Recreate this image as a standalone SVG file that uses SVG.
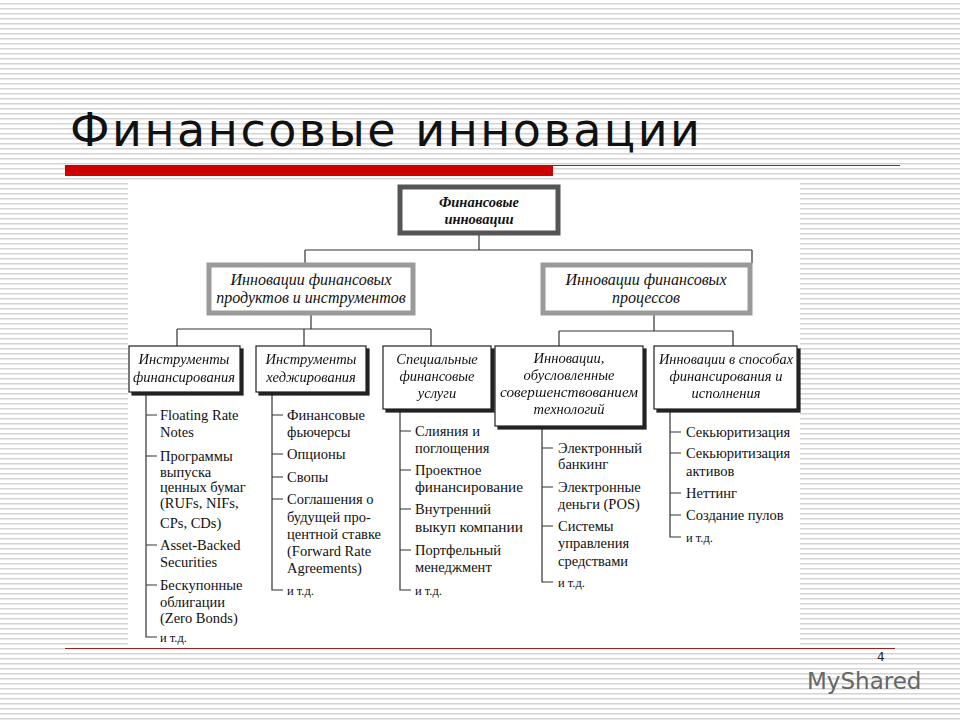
<svg xmlns="http://www.w3.org/2000/svg" width="960" height="720" viewBox="0 0 960 720">
<defs>
<pattern id="stripes" width="10" height="5" patternUnits="userSpaceOnUse">
<rect width="10" height="5" fill="#ffffff"/>
<rect y="3" width="10" height="1.5" fill="#d4d4d4"/>
</pattern>
<filter id="sh" x="-5%" y="-5%" width="115%" height="120%"><feDropShadow dx="3" dy="3" stdDeviation="0.5" flood-color="#222" flood-opacity="1"/></filter>
</defs>
<style>
.box{fill:#fff;stroke:#222;stroke-width:1.2}
.l1{fill:#fff;stroke:#555;stroke-width:5}
.l2{fill:#fff;stroke:#9a9a9a;stroke-width:5}
.hd{font-family:"Liberation Serif",serif;font-style:italic;font-size:14.5px;fill:#111;text-anchor:middle}
.h2{font-size:16px}
.it{font-family:"Liberation Serif",serif;font-size:14.5px;fill:#111}
.ln{fill:none;stroke:#333;stroke-width:1.2}
</style>
<rect width="960" height="720" fill="url(#stripes)"/>
<rect x="128" y="181" width="672" height="467" fill="#fff"/>
<text x="70" y="146" font-family="DejaVu Sans, sans-serif" font-size="46" fill="#111" textLength="630">Финансовые инновации</text>
<rect x="65" y="165" width="488" height="11" fill="#cc0000"/>
<line x1="553" y1="165.5" x2="900" y2="165.5" stroke="#8b2a2a" stroke-width="1"/>
<line x1="65" y1="648.5" x2="895" y2="648.5" stroke="#8b2a2a" stroke-width="1"/>

<g id="connectors">
<path class="ln" d="M479 235V250M305 250H752M305 250V263M752 250V263"/>
<path class="ln" d="M311 315V329M177 329H431M177 329V346M304 329V346M431 329V346"/>
<path class="ln" d="M654 315V331M559 331H733M559 331V346M733 331V346"/>
<path class="ln" d="M146 392V637H157M146 415H157M146 456H157M146 545H157M146 585H157"/>
<path class="ln" d="M272 393V590H283M272 415H283M272 454H283M272 477H283M272 499H283"/>
<path class="ln" d="M400 410V590H411M400 431H411M400 470H411M400 509H411M400 550H411"/>
<path class="ln" d="M542 427V582H553M542 448H553M542 487H553M542 526H553"/>
<path class="ln" d="M670 410V537H681M670 432H681M670 453H681M670 493H681M670 515H681"/>
</g>

<g id="root"><rect class="l1" x="400" y="187" width="158" height="46"/>
<text class="hd" font-weight="bold" font-size="16" x="479" y="207">Финансовые</text>
<text class="hd" font-weight="bold" font-size="16" x="479" y="224">инновации</text></g>

<g id="products"><rect class="l2" x="209" y="265" width="204" height="48"/>
<text class="hd h2" x="311" y="285">Инновации финансовых</text>
<text class="hd h2" x="311" y="303">продуктов и инструментов</text></g>

<g id="processes"><rect class="l2" x="543" y="265" width="207" height="48"/>
<text class="hd h2" x="646" y="285">Инновации финансовых</text>
<text class="hd h2" x="646" y="303">процессов</text></g>

<g id="fin" filter="url(#sh)"><rect class="box" x="129" y="346" width="111" height="46"/>
<text class="hd" x="184" y="364">Инструменты</text>
<text class="hd" x="184" y="382">финансирования</text></g>

<g id="hedge" filter="url(#sh)"><rect class="box" x="256" y="346" width="110" height="46"/>
<text class="hd" x="311" y="364">Инструменты</text>
<text class="hd" x="311" y="382">хеджирования</text></g>

<g id="special" filter="url(#sh)"><rect class="box" x="383" y="346" width="108" height="63"/>
<text class="hd" x="437" y="364">Специальные</text>
<text class="hd" x="437" y="381">финансовые</text>
<text class="hd" x="437" y="398">услуги</text></g>

<g id="tech" filter="url(#sh)"><rect class="box" x="495" y="346" width="148" height="80"/>
<text class="hd" x="569" y="363">Инновации,</text>
<text class="hd" x="569" y="380">обусловленные</text>
<text class="hd" x="569" y="397" textLength="138" lengthAdjust="spacingAndGlyphs">совершенствованием</text>
<text class="hd" x="569" y="414">технологий</text></g>

<g id="ways" filter="url(#sh)"><rect class="box" x="654" y="346" width="143" height="63"/>
<text class="hd" x="726" y="364" textLength="134" lengthAdjust="spacingAndGlyphs">Инновации в способах</text>
<text class="hd" x="726" y="381">финансирования и</text>
<text class="hd" x="726" y="398">исполнения</text></g>

<g id="list1" class="it">
<text x="160" y="420">Floating Rate</text><text x="160" y="437">Notes</text>
<text x="160" y="461">Программы</text><text x="160" y="477">выпуска</text><text x="160" y="492">ценных бумаг</text><text x="160" y="508">(RUFs, NIFs,</text><text x="160" y="528">CPs, CDs)</text>
<text x="160" y="550">Asset-Backed</text><text x="160" y="567">Securities</text>
<text x="160" y="590">Бескупонные</text><text x="160" y="607">облигации</text><text x="160" y="623">(Zero Bonds)</text>
<text x="160" y="642" font-size="12.5">и т.д.</text>
</g>
<g id="list2" class="it">
<text x="287" y="420">Финансовые</text><text x="287" y="437">фьючерсы</text>
<text x="287" y="459">Опционы</text><text x="287" y="482">Свопы</text>
<text x="287" y="504">Соглашения о</text><text x="287" y="522">будущей про-</text><text x="287" y="539">центной ставке</text><text x="287" y="556">(Forward Rate</text><text x="287" y="573">Agreements)</text>
<text x="287" y="595" font-size="12.5">и т.д.</text>
</g>
<g id="list3" class="it">
<text x="415" y="436">Слияния и</text><text x="415" y="453">поглощения</text>
<text x="415" y="475">Проектное</text><text x="415" y="492" textLength="108" lengthAdjust="spacingAndGlyphs">финансирование</text>
<text x="415" y="514">Внутренний</text><text x="415" y="532" textLength="108" lengthAdjust="spacingAndGlyphs">выкуп компании</text>
<text x="415" y="555">Портфельный</text><text x="415" y="572">менеджмент</text>
<text x="415" y="595" font-size="12.5">и т.д.</text>
</g>
<g id="list4" class="it">
<text x="558" y="453">Электронный</text><text x="558" y="469">банкинг</text>
<text x="558" y="492">Электронные</text><text x="558" y="509">деньги (POS)</text>
<text x="558" y="531">Системы</text><text x="558" y="548">управления</text><text x="558" y="566">средствами</text>
<text x="558" y="587" font-size="12.5">и т.д.</text>
</g>
<g id="list5" class="it">
<text x="686" y="437">Секьюритизация</text>
<text x="686" y="458">Секьюритизация</text><text x="686" y="476">активов</text>
<text x="686" y="498">Неттинг</text>
<text x="686" y="520">Создание пулов</text>
<text x="686" y="542" font-size="12.5">и т.д.</text>
</g>

<text x="807" y="689" font-family="DejaVu Sans, sans-serif" font-size="23" fill="#666">MyShared</text>
<text x="877" y="661" font-family="DejaVu Sans, sans-serif" font-size="12" fill="#222">4</text>
</svg>
